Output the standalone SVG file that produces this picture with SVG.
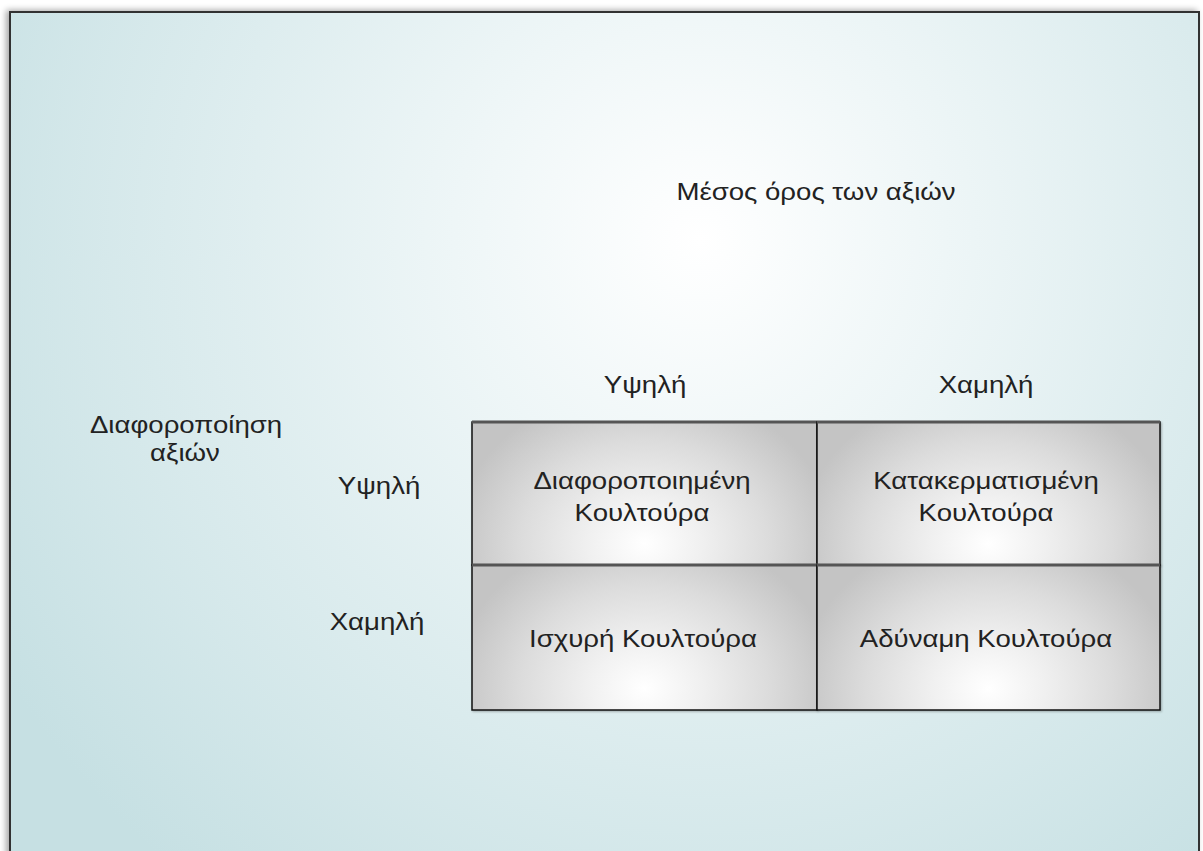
<svg xmlns="http://www.w3.org/2000/svg" width="1203" height="851" viewBox="0 0 1203 851">
<defs>
<radialGradient id="bg" gradientUnits="userSpaceOnUse" cx="700" cy="240" r="820">
<stop offset="0" stop-color="#ffffff"/>
<stop offset="0.3" stop-color="#eef6f7"/>
<stop offset="1" stop-color="#c6e0e3"/>
</radialGradient>
<radialGradient id="cell" cx="0.5" cy="0.85" r="1" gradientTransform="translate(0.5,0.85) scale(0.55,1.1) translate(-0.5,-0.85)">
<stop offset="0" stop-color="#ffffff"/>
<stop offset="0.3" stop-color="#f0f0f0"/>
<stop offset="0.65" stop-color="#dcdcdc"/>
<stop offset="1" stop-color="#c4c4c4"/>
</radialGradient>
<filter id="sh" x="-5%" y="-5%" width="110%" height="110%">
<feGaussianBlur in="SourceAlpha" stdDeviation="3"/>
<feOffset dx="-3" dy="-1"/>
<feComponentTransfer><feFuncA type="linear" slope="0.35"/></feComponentTransfer>
<feMerge><feMergeNode/><feMergeNode in="SourceGraphic"/></feMerge>
</filter>
<filter id="csh" x="-5%" y="-5%" width="110%" height="110%">
<feGaussianBlur in="SourceAlpha" stdDeviation="1.2"/>
<feOffset dx="1" dy="1"/>
<feComponentTransfer><feFuncA type="linear" slope="0.3"/></feComponentTransfer>
<feMerge><feMergeNode/><feMergeNode in="SourceGraphic"/></feMerge>
</filter>
</defs>
<style>
text{font-family:"Liberation Sans",Arial,sans-serif;font-size:23px;fill:#222;text-anchor:middle}
.c{fill:url(#cell);stroke:#111;stroke-width:1.5}
.top{stroke:#555;stroke-width:3}
</style>
<rect width="1203" height="851" fill="#ffffff"/>
<g id="frame">
<rect x="10" y="12" width="1189" height="860" fill="url(#bg)" stroke="#333" stroke-width="2" filter="url(#sh)"/>
</g>
<g id="title"><text transform="matrix(1.2 0 0 1 816 200)">Μέσος όρος των αξιών</text></g>
<g id="col-high"><text transform="matrix(1.2 0 0 1 645 393)">Υψηλή</text></g>
<g id="col-low"><text transform="matrix(1.2 0 0 1 986 393)">Χαμηλή</text></g>
<g id="row-title"><text transform="matrix(1.2 0 0 1 186 433)">Διαφοροποίηση</text><text transform="matrix(1.2 0 0 1 185 461)">αξιών</text></g>
<g id="row-high"><text transform="matrix(1.2 0 0 1 379 494)">Υψηλή</text></g>
<g id="row-low"><text transform="matrix(1.2 0 0 1 377 630)">Χαμηλή</text></g>
<g id="cell-11">
<rect class="c" x="472" y="422" width="345" height="143" filter="url(#csh)"/>
<line class="top" x1="472" y1="422" x2="817" y2="422"/>
<text transform="matrix(1.2 0 0 1 642 489)">Διαφοροποιημένη</text><text transform="matrix(1.2 0 0 1 642 521)">Κουλτούρα</text>
</g>
<g id="cell-12">
<rect class="c" x="817" y="422" width="343" height="143" filter="url(#csh)"/>
<line class="top" x1="817" y1="422" x2="1160" y2="422"/>
<text transform="matrix(1.2 0 0 1 986 489)">Κατακερματισμένη</text><text transform="matrix(1.2 0 0 1 986 521)">Κουλτούρα</text>
</g>
<g id="cell-21">
<rect class="c" x="472" y="565" width="345" height="145" filter="url(#csh)"/>
<line class="top" x1="472" y1="565" x2="817" y2="565"/>
<text transform="matrix(1.2 0 0 1 643 647)">Ισχυρή Κουλτούρα</text>
</g>
<g id="cell-22">
<rect class="c" x="817" y="565" width="343" height="145" filter="url(#csh)"/>
<line class="top" x1="817" y1="565" x2="1160" y2="565"/>
<text transform="matrix(1.2 0 0 1 986 647)">Αδύναμη Κουλτούρα</text>
</g>
<g id="connectors"/>
</svg>
